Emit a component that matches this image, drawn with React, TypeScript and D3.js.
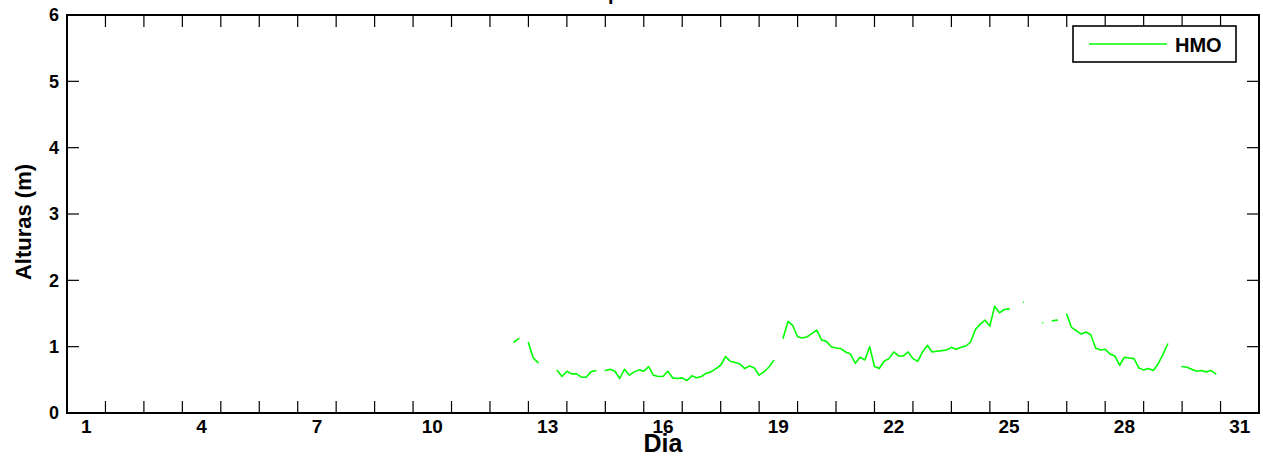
import React from "react";
import * as d3 from "d3";

// HMO series, 3-hourly samples starting at day 12.625 (null = no data)
const startDay = 12.625;
const stepDay = 0.125;
const hmo: (number | null)[] = [
  1.07, 1.12, null,
  1.06, 0.83, 0.76, null, null, null,
  0.64, 0.55, 0.63, 0.59, 0.59, 0.54, 0.54, 0.62, 0.64, null,
  0.64, 0.66, 0.63, 0.52, 0.66, 0.57, 0.62, 0.65, 0.63, 0.70, 0.57, 0.55,
  0.55, 0.63, 0.53, 0.52, 0.53, 0.49, 0.56, 0.53, 0.55, 0.60, 0.62, 0.67,
  0.72, 0.85, 0.78, 0.76, 0.74, 0.67, 0.71, 0.68, 0.57, 0.62, 0.69, 0.79, null,
  1.13, 1.38, 1.32, 1.15, 1.13, 1.15, 1.20, 1.25, 1.10, 1.08, 1.00, 0.98,
  0.97, 0.92, 0.89, 0.75, 0.84, 0.80, 1.00, 0.70, 0.67, 0.78, 0.82, 0.92,
  0.86, 0.86, 0.92, 0.82, 0.78, 0.92, 1.02, 0.92, 0.93, 0.94, 0.95, 0.99,
  0.96, 0.99, 1.01, 1.07, 1.26, 1.34, 1.40, 1.31, 1.61, 1.51, 1.56, 1.57,
  null, null, 1.67, null, null, null, 1.36, null, 1.39, 1.40, null,
  1.49, 1.29, 1.24, 1.19, 1.22, 1.18, 0.98, 0.95, 0.96, 0.89, 0.86, 0.72,
  0.84, 0.83, 0.82, 0.68, 0.65, 0.67, 0.64, 0.74, 0.88, 1.04, null, null,
  0.70, 0.69, 0.66, 0.63, 0.64, 0.62, 0.64, 0.59,
];

const yTicks = [0, 1, 2, 3, 4, 5, 6];
const xTickDays = d3.range(2, 32);
const xLabelDays = [1, 4, 7, 10, 13, 16, 19, 22, 25, 28, 31];

const font = "'Liberation Sans', Arial, Helvetica, sans-serif";

type Pt = { t: number; v: number | null };

export default function App() {
  const width = 1263;
  const height = 462;
  const marginLeft = 67;
  const marginRight = 4;
  const marginTop = 15;
  const marginBottom = 49;

  const x = d3
    .scaleLinear()
    .domain([1, 32])
    .range([marginLeft, width - marginRight]);
  const y = d3
    .scaleLinear()
    .domain([0, 6])
    .range([height - marginBottom, marginTop]);

  const pts: Pt[] = hmo.map((v, i) => ({ t: startDay + i * stepDay, v }));
  const line = d3
    .line<Pt>()
    .defined((d) => d.v != null)
    .x((d) => x(d.t))
    .y((d) => y(d.v as number));

  const x0 = x(1);
  const x1 = x(32);
  const yb = y(0);
  const yt = y(6);
  const tickLen = 12;

  return (
    <svg
      width={width}
      height={height}
      style={{ position: "absolute", left: 0, top: 0, background: "#fff" }}
      fontFamily={font}
      fontWeight="bold"
    >
      {/* title, mostly above the visible area */}
      <text x={(x0 + x1) / 2} y={0} textAnchor="middle" fontSize={20}>
        Septiembre 2012
      </text>

      {/* data */}
      <path
        d={line(pts) || ""}
        fill="none"
        stroke="#00ff00"
        strokeWidth={1.6}
        strokeLinejoin="round"
        strokeLinecap="round"
      />

      {/* x ticks top and bottom */}
      {xTickDays.map((d) => (
        <g key={d} stroke="#000" strokeWidth={1.2}>
          <line x1={x(d)} x2={x(d)} y1={yb} y2={yb - tickLen} />
          <line x1={x(d)} x2={x(d)} y1={yt} y2={yt + tickLen} />
        </g>
      ))}
      {/* y ticks left and right */}
      {yTicks.map((v) => (
        <g key={v} stroke="#000" strokeWidth={1.2}>
          <line x1={x0} x2={x0 + tickLen} y1={y(v)} y2={y(v)} />
          <line x1={x1} x2={x1 - tickLen} y1={y(v)} y2={y(v)} />
        </g>
      ))}

      {/* box */}
      <rect
        x={x0}
        y={yt}
        width={x1 - x0}
        height={yb - yt}
        fill="none"
        stroke="#000"
        strokeWidth={2}
      />

      {/* tick labels */}
      {yTicks.map((v) => (
        <text
          key={v}
          x={x0 - 8}
          y={y(v)}
          dy="0.36em"
          textAnchor="end"
          fontSize={18}
        >
          {v}
        </text>
      ))}
      {xLabelDays.map((d) => (
        <text key={d} x={x(d + 0.5)} y={433} textAnchor="middle" fontSize={19}>
          {d}
        </text>
      ))}

      {/* axis titles */}
      <text x={(x0 + x1) / 2} y={452} textAnchor="middle" fontSize={25}>
        Dia
      </text>
      <text
        transform={`translate(31,${(yt + yb) / 2 + 8}) rotate(-90)`}
        textAnchor="middle"
        fontSize={22}
      >
        Alturas (m)
      </text>

      {/* legend */}
      <g>
        <rect
          x={1073}
          y={26}
          width={163}
          height={36}
          fill="#fff"
          stroke="#000"
          strokeWidth={1.6}
        />
        <line x1={1089} x2={1167} y1={44} y2={44} stroke="#00ff00" strokeWidth={1.6} />
        <text x={1175} y={51.5} fontSize={20}>
          HMO
        </text>
      </g>
    </svg>
  );
}
